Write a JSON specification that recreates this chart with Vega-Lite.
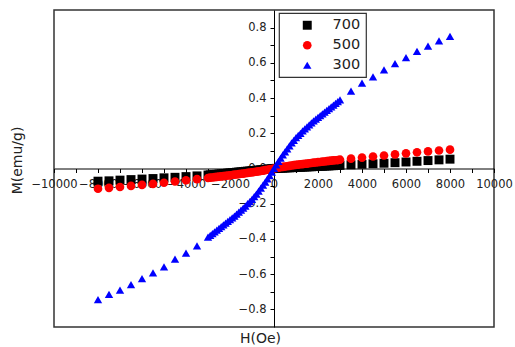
{
  "$schema": "https://vega.github.io/schema/vega-lite/v6.json",
  "width": 440,
  "height": 317,
  "autosize": {"type": "none"},
  "padding": {"left": 54, "top": 10, "right": 21, "bottom": 20},
  "background": "white",
  "config": {
    "view": {"stroke": "#333333", "strokeWidth": 1.5},
    "font": "DejaVu Sans",
    "legend": {"strokeWidth": 1.2}
  },
  "data": {
    "values": [
      {"h": -8000, "700": -0.072, "500": -0.115, "300": -0.745},
      {"h": -7500, "700": -0.070, "500": -0.110, "300": -0.715},
      {"h": -7000, "700": -0.066, "500": -0.105, "300": -0.69},
      {"h": -6500, "700": -0.063, "500": -0.099, "300": -0.66},
      {"h": -6000, "700": -0.060, "500": -0.093, "300": -0.625},
      {"h": -5500, "700": -0.057, "500": -0.087, "300": -0.592},
      {"h": -5000, "700": -0.053, "500": -0.081, "300": -0.558},
      {"h": -4500, "700": -0.050, "500": -0.074, "300": -0.515},
      {"h": -4000, "700": -0.046, "500": -0.067, "300": -0.48},
      {"h": -3500, "700": -0.042, "500": -0.060, "300": -0.44},
      {"h": -3000, "700": -0.037, "500": -0.054, "300": -0.39},
      {"h": -2900, "700": -0.036, "500": -0.052, "300": -0.38},
      {"h": -2800, "700": -0.035, "500": -0.051, "300": -0.37},
      {"h": -2700, "700": -0.034, "500": -0.049, "300": -0.36},
      {"h": -2600, "700": -0.033, "500": -0.048, "300": -0.35},
      {"h": -2500, "700": -0.031, "500": -0.046, "300": -0.34},
      {"h": -2400, "700": -0.030, "500": -0.045, "300": -0.33},
      {"h": -2300, "700": -0.029, "500": -0.043, "300": -0.32},
      {"h": -2200, "700": -0.028, "500": -0.042, "300": -0.31},
      {"h": -2100, "700": -0.026, "500": -0.040, "300": -0.30},
      {"h": -2000, "700": -0.025, "500": -0.039, "300": -0.29},
      {"h": -1900, "700": -0.024, "500": -0.037, "300": -0.28},
      {"h": -1800, "700": -0.023, "500": -0.035, "300": -0.27},
      {"h": -1700, "700": -0.021, "500": -0.034, "300": -0.259},
      {"h": -1600, "700": -0.020, "500": -0.032, "300": -0.248},
      {"h": -1500, "700": -0.019, "500": -0.030, "300": -0.237},
      {"h": -1400, "700": -0.018, "500": -0.029, "300": -0.225},
      {"h": -1300, "700": -0.016, "500": -0.027, "300": -0.213},
      {"h": -1200, "700": -0.015, "500": -0.025, "300": -0.2},
      {"h": -1100, "700": -0.014, "500": -0.023, "300": -0.188},
      {"h": -1000, "700": -0.012, "500": -0.022, "300": -0.175},
      {"h": -900, "700": -0.011, "500": -0.020, "300": -0.16},
      {"h": -800, "700": -0.010, "500": -0.018, "300": -0.145},
      {"h": -700, "700": -0.009, "500": -0.016, "300": -0.129},
      {"h": -600, "700": -0.007, "500": -0.014, "300": -0.112},
      {"h": -500, "700": -0.006, "500": -0.012, "300": -0.095},
      {"h": -400, "700": -0.005, "500": -0.009, "300": -0.078},
      {"h": -300, "700": -0.004, "500": -0.007, "300": -0.059},
      {"h": -200, "700": -0.002, "500": -0.005, "300": -0.04},
      {"h": -100, "700": -0.001, "500": -0.003, "300": -0.02},
      {"h": 0, "700": 0.0, "500": 0.0, "300": 0.0},
      {"h": 100, "700": 0.001, "500": 0.003, "300": 0.02},
      {"h": 200, "700": 0.001, "500": 0.005, "300": 0.04},
      {"h": 300, "700": 0.002, "500": 0.007, "300": 0.059},
      {"h": 400, "700": 0.002, "500": 0.009, "300": 0.078},
      {"h": 500, "700": 0.003, "500": 0.011, "300": 0.095},
      {"h": 600, "700": 0.004, "500": 0.013, "300": 0.112},
      {"h": 700, "700": 0.004, "500": 0.015, "300": 0.129},
      {"h": 800, "700": 0.005, "500": 0.017, "300": 0.145},
      {"h": 900, "700": 0.005, "500": 0.019, "300": 0.16},
      {"h": 1000, "700": 0.006, "500": 0.021, "300": 0.175},
      {"h": 1100, "700": 0.007, "500": 0.022, "300": 0.188},
      {"h": 1200, "700": 0.007, "500": 0.024, "300": 0.2},
      {"h": 1300, "700": 0.008, "500": 0.025, "300": 0.213},
      {"h": 1400, "700": 0.009, "500": 0.027, "300": 0.225},
      {"h": 1500, "700": 0.009, "500": 0.028, "300": 0.237},
      {"h": 1600, "700": 0.010, "500": 0.030, "300": 0.248},
      {"h": 1700, "700": 0.010, "500": 0.031, "300": 0.259},
      {"h": 1800, "700": 0.011, "500": 0.033, "300": 0.27},
      {"h": 1900, "700": 0.011, "500": 0.034, "300": 0.28},
      {"h": 2000, "700": 0.012, "500": 0.036, "300": 0.29},
      {"h": 2100, "700": 0.013, "500": 0.037, "300": 0.30},
      {"h": 2200, "700": 0.013, "500": 0.039, "300": 0.31},
      {"h": 2300, "700": 0.014, "500": 0.040, "300": 0.32},
      {"h": 2400, "700": 0.015, "500": 0.042, "300": 0.33},
      {"h": 2500, "700": 0.015, "500": 0.043, "300": 0.34},
      {"h": 2600, "700": 0.016, "500": 0.045, "300": 0.35},
      {"h": 2700, "700": 0.016, "500": 0.046, "300": 0.36},
      {"h": 2800, "700": 0.017, "500": 0.047, "300": 0.37},
      {"h": 2900, "700": 0.017, "500": 0.048, "300": 0.38},
      {"h": 3000, "700": 0.018, "500": 0.050, "300": 0.39},
      {"h": 3500, "700": 0.021, "500": 0.056, "300": 0.44},
      {"h": 4000, "700": 0.024, "500": 0.062, "300": 0.485},
      {"h": 4500, "700": 0.027, "500": 0.068, "300": 0.52},
      {"h": 5000, "700": 0.030, "500": 0.074, "300": 0.56},
      {"h": 5500, "700": 0.033, "500": 0.080, "300": 0.595},
      {"h": 6000, "700": 0.037, "500": 0.086, "300": 0.63},
      {"h": 6500, "700": 0.041, "500": 0.092, "300": 0.665},
      {"h": 7000, "700": 0.045, "500": 0.097, "300": 0.695},
      {"h": 7500, "700": 0.049, "500": 0.102, "300": 0.725},
      {"h": 8000, "700": 0.053, "500": 0.107, "300": 0.75}
    ]
  },
  "transform": [
    {"fold": ["700", "500", "300"], "as": ["series", "m"]}
  ],
  "mark": {"type": "point", "filled": true, "opacity": 1, "strokeWidth": 0},
  "encoding": {
    "x": {
      "field": "h", "type": "quantitative",
      "scale": {"domain": [-10000, 10000], "nice": false, "zero": false},
      "axis": {
        "title": "H(Oe)",
        "offset": -158.5,
        "values": [-10000, -9000, -8000, -7000, -6000, -5000, -4000, -3000, -2000, -1000, 0, 1000, 2000, 3000, 4000, 5000, 6000, 7000, 8000, 9000, 10000],
        "format": "d",
        "labelExpr": "datum.value % 2000 == 0 ? datum.label : ''",
        "grid": false,
        "domainColor": "#000000",
        "domainWidth": 1,
        "tickColor": "#000000",
        "tickSize": 4,
        "labelPadding": 6,
        "labelFont": "DejaVu Sans",
        "labelFontSize": 11.5,
        "labelColor": "#222222",
        "labelOverlap": false,
        "labelFlush": false,
        "titleFont": "DejaVu Sans",
        "titleFontSize": 14,
        "titleFontWeight": "normal",
        "titleColor": "#222222",
        "titleX": 206,
        "titleY": 170,
        "titleBaseline": "middle",
        "titleAlign": "center"
      }
    },
    "y": {
      "field": "m", "type": "quantitative",
      "scale": {"domain": [-0.9, 0.9], "nice": false, "zero": false},
      "axis": {
        "title": "M(emu/g)",
        "offset": -220,
        "values": [-0.8, -0.7, -0.6, -0.5, -0.4, -0.3, -0.2, -0.1, 0, 0.1, 0.2, 0.3, 0.4, 0.5, 0.6, 0.7, 0.8],
        "format": ".1f",
        "labelExpr": "abs(round(datum.value * 10)) % 2 == 0 ? datum.label : ''",
        "grid": false,
        "domainColor": "#000000",
        "domainWidth": 1,
        "tickColor": "#000000",
        "tickSize": 4,
        "labelPadding": 4,
        "labelFont": "DejaVu Sans",
        "labelFontSize": 11.5,
        "labelColor": "#222222",
        "labelOverlap": false,
        "labelFlush": false,
        "titleFont": "DejaVu Sans",
        "titleFontSize": 14,
        "titleFontWeight": "normal",
        "titleColor": "#222222",
        "titleX": -257,
        "titleY": 150,
        "titleAngle": -90,
        "titleBaseline": "middle",
        "titleAlign": "center"
      }
    },
    "color": {
      "field": "series", "type": "nominal",
      "scale": {"domain": ["700", "500", "300"], "range": ["#000000", "#ff0000", "#0000ff"]},
      "legend": {
        "title": null,
        "orient": "none",
        "legendX": 225,
        "legendY": 3,
        "fillColor": "white",
        "strokeColor": "#333333",
        "padding": 5,
        "symbolOffset": 16,
        "labelOffset": 18,
        "rowPadding": 5,
        "symbolSize": 50,
        "labelFont": "DejaVu Sans",
        "labelFontSize": 14.5,
        "labelColor": "#222222"
      }
    },
    "shape": {
      "field": "series", "type": "nominal",
      "scale": {"domain": ["700", "500", "300"], "range": ["square", "circle", "triangle-up"]}
    },
    "size": {
      "field": "series", "type": "nominal",
      "scale": {"domain": ["700", "500", "300"], "range": [80, 70, 140]},
      "legend": null
    },
    "order": {"field": "series", "sort": "descending"}
  }
}
